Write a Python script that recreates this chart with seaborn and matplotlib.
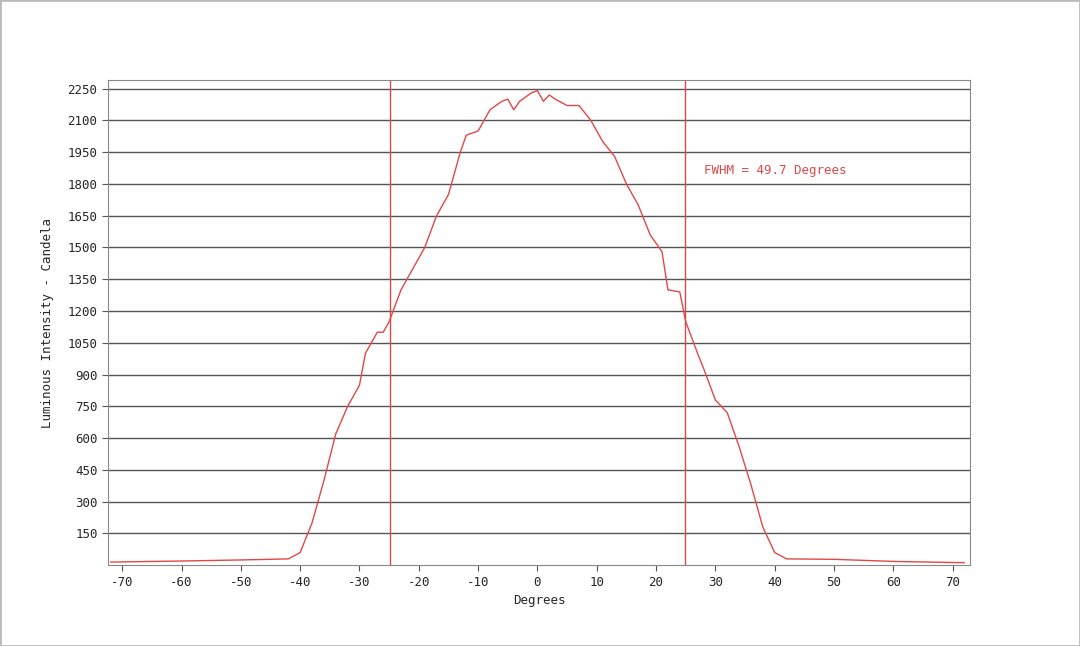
import numpy as np
import seaborn as sns
import matplotlib.pyplot as plt

# Angular intensity profile
degrees = [-72, -60, -50, -42, -40, -38, -36, -34, -32, -30, -29, -27, -26, -25, -23, -21,
           -19, -17, -15, -13, -12, -10, -8, -6, -5, -4, -3, -1, 0, 1, 2, 3, 5, 7, 9,
           11, 13, 15, 17, 19, 21, 22, 24, 25, 27, 28, 30, 32, 34, 36, 38, 40, 42, 50, 60, 72]
candela = [15, 20, 25, 30, 60, 200, 400, 620, 750, 850, 1000, 1100, 1100, 1150, 1300, 1400,
           1500, 1650, 1750, 1950, 2030, 2050, 2150, 2190, 2200, 2150, 2190, 2230, 2240, 2190,
           2220, 2200, 2170, 2170, 2100, 2000, 1930, 1800, 1700, 1560, 1480, 1300, 1290, 1150,
           1000, 930, 780, 720, 560, 380, 180, 60, 30, 28, 18, 12]
fwhm_edges = [-24.85, 24.85]
xticks = list(range(-70, 71, 10))
yticks = list(range(150, 2251, 150))

sns.set_style('white')
plt.rcParams['font.family'] = ['DejaVu Sans Mono']
plt.rcParams['axes.unicode_minus'] = False
red = '#e04848'

fig = plt.figure(figsize=(10.8, 6.46), dpi=100)
ax = fig.add_axes([0.1, 0.125, 0.798, 0.751])
for y in yticks:
    ax.axhline(y, color='#555555', lw=1, zorder=1)
sns.lineplot(x=degrees, y=candela, ax=ax, color=red, lw=1, zorder=3)
for x in fwhm_edges:
    ax.axvline(x, color=red, lw=1, zorder=2)
ax.text(28, 1863, 'FWHM = 49.7 Degrees', color=red, fontsize=9, va='center')

ax.set_xlim(-72.4, 72.9)
ax.set_ylim(0, 2290)
ax.set_xticks(xticks)
ax.set_yticks(yticks)
ax.tick_params(labelsize=9, length=4, direction='out', left=True, bottom=True, color='#555555')
for s in ax.spines.values():
    s.set_color('#888888')
ax.set_xlabel('Degrees', fontsize=9)
ax.set_ylabel('Luminous Intensity - Candela', fontsize=9, labelpad=10)
fig.patches.append(plt.Rectangle((0, 0), 1, 1, transform=fig.transFigure, fill=False,
                                 edgecolor='#bbbbbb', lw=2))
fig.savefig('out.png', dpi=100)
plt.close(fig)
